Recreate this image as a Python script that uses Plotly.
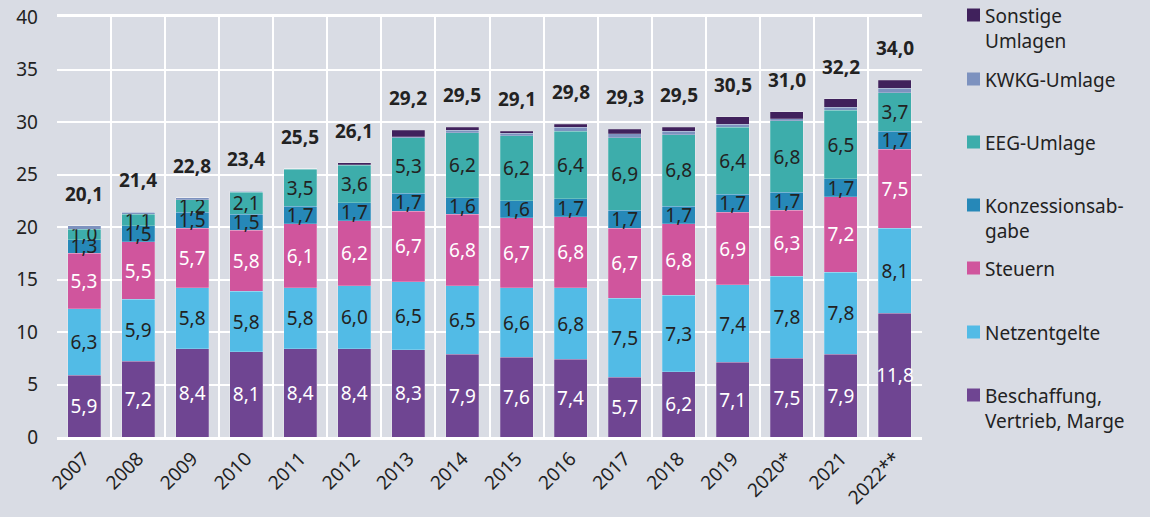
import plotly.graph_objects as go

years = ["2007", "2008", "2009", "2010", "2011", "2012", "2013", "2014",
         "2015", "2016", "2017", "2018", "2019", "2020*", "2021", "2022**"]
beschaffung = [5.9, 7.2, 8.4, 8.1, 8.4, 8.4, 8.3, 7.9, 7.6, 7.4, 5.7, 6.2, 7.1, 7.5, 7.9, 11.8]
netzentgelte = [6.3, 5.9, 5.8, 5.8, 5.8, 6.0, 6.5, 6.5, 6.6, 6.8, 7.5, 7.3, 7.4, 7.8, 7.8, 8.1]
steuern = [5.3, 5.5, 5.7, 5.8, 6.1, 6.2, 6.7, 6.8, 6.7, 6.8, 6.7, 6.8, 6.9, 6.3, 7.2, 7.5]
konzession = [1.3, 1.5, 1.5, 1.5, 1.7, 1.7, 1.7, 1.6, 1.6, 1.7, 1.7, 1.7, 1.7, 1.7, 1.7, 1.7]
eeg = [1.0, 1.1, 1.2, 2.1, 3.5, 3.6, 5.3, 6.2, 6.2, 6.4, 6.9, 6.8, 6.4, 6.8, 6.5, 3.7]
kwkg = [0.3, 0.2, 0.2, 0.1, 0.03, 0.02, 0.1, 0.2, 0.25, 0.4, 0.4, 0.3, 0.3, 0.2, 0.3, 0.4]
sonstige = [0.0, 0.0, 0.0, 0.0, 0.0, 0.2, 0.6, 0.3, 0.15, 0.3, 0.4, 0.4, 0.7, 0.7, 0.8, 0.8]
totals = [20.1, 21.4, 22.8, 23.4, 25.5, 26.1, 29.2, 29.5, 29.1, 29.8, 29.3, 29.5, 30.5, 31.0, 32.2, 34.0]

FONT = "Noto Sans"
BG = "#d9dce4"
DARK = "#222222"

positions = list(range(len(years)))

series = [
    ("Beschaffung,<br>Vertrieb, Marge", beschaffung, "#6f4592", "white", True),
    ("Netzentgelte", netzentgelte, "#52bbe6", DARK, True),
    ("Steuern", steuern, "#d0559d", "white", True),
    ("Konzessionsab-<br>gabe", konzession, "#2688b8", DARK, True),
    ("EEG-Umlage", eeg, "#3dadab", DARK, True),
    ("KWKG-Umlage", kwkg, "#7d92bf", DARK, False),
    ("Sonstige<br>Umlagen", sonstige, "#40215c", DARK, False),
]

fig = go.Figure()
for name, vals, color, tcolor, labeled in series:
    if labeled:
        kw = dict(text=[f"{v:.1f}".replace(".", ",") for v in vals],
                  textposition="inside", insidetextanchor="middle",
                  constraintext="none", textangle=0,
                  textfont=dict(family=FONT, size=19, color=tcolor))
    else:
        kw = dict(textposition="none")
    fig.add_trace(go.Bar(
        x=positions, y=vals, name=name,
        marker=dict(color=color, line=dict(color="rgba(255,255,255,0.35)", width=0.6)),
        width=0.61, showlegend=False, hoverinfo="skip", **kw,
    ))

annotations = []
for pos, tot in zip(positions, totals):
    annotations.append(dict(
        x=pos, y=tot, xref="x", yref="y",
        text="<b>%s</b>" % f"{tot:.1f}".replace(".", ","),
        showarrow=False, yanchor="bottom", yshift=17,
        font=dict(family=FONT, size=19, color=DARK),
    ))

# custom legend (pixel layout converted to paper coords)
PL, PR, PT, PB = 57, 922, 17, 437
def px_x(p):
    return (p - PL) / (PR - PL)
def px_y(p):
    return (PB - p) / (PB - PT)

shapes = []
legend_centers = [15, 79, 142, 205, 268, 332, 395]
for (name, vals, color, tcolor, labeled), cy in zip(reversed(series), legend_centers):
    shapes.append(dict(type="rect", xref="paper", yref="paper",
                       x0=px_x(967), x1=px_x(980), y0=px_y(cy + 6.5), y1=px_y(cy - 6.5),
                       fillcolor=color, line=dict(width=0)))
    annotations.append(dict(
        x=px_x(983), y=px_y(cy - 14), xref="paper", yref="paper", text=name,
        showarrow=False, xanchor="left", yanchor="top", align="left",
        font=dict(family=FONT, size=19, color=DARK),
    ))

fig.update_layout(
    barmode="stack",
    width=1150, height=517, autosize=False,
    margin=dict(l=PL, r=1150 - PR, t=PT, b=517 - PB, autoexpand=False),
    paper_bgcolor=BG, plot_bgcolor=BG,
    font=dict(family=FONT, size=19, color=DARK),
    annotations=annotations,
    shapes=shapes,
    showlegend=False,
)
fig.update_xaxes(
    automargin=False,
    range=[-0.5, len(years) - 0.5], tickvals=positions, ticktext=years,
    showgrid=False, zeroline=False,
    minor=dict(tick0=0.5, dtick=1, showgrid=True, gridcolor="white", gridwidth=2, ticks=""),
    showline=True, linecolor="white", linewidth=3, mirror=True,
    ticks="", tickangle=-45, tickfont=dict(family=FONT, size=19, color=DARK),
)
fig.update_yaxes(
    automargin=False,
    range=[0, 40], dtick=5, showgrid=True, gridcolor="white", gridwidth=2,
    zeroline=False, showline=False, ticks="", ticklabelstandoff=18,
    tickfont=dict(family=FONT, size=19, color=DARK),
)

fig.write_html("out.html", config={"displayModeBar": False},
               post_script="document.body.style.margin='0';document.body.style.overflow='hidden';")
